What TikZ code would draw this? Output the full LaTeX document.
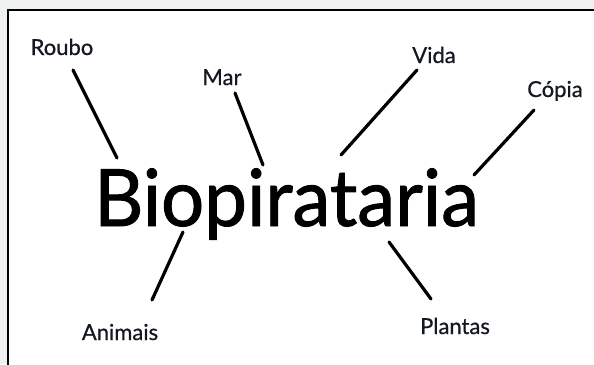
\documentclass[tikz,border=0pt]{standalone}
\usepackage{fontspec}
\setmainfont{Lato}
\newfontfamily\bigfont[FakeBold=1.2]{Lato}
\newfontfamily\lblfont[FakeBold=0.6]{Lato}
\definecolor{pagegray}{HTML}{EFF1F1}
\definecolor{inkc}{HTML}{141820}
\tikzset{
  lbl/.style={inner sep=0pt, anchor=base, text=inkc, font=\lblfont\fontsize{22}{24}\selectfont},
  conn/.style={line width=3.2pt, line cap=round, draw=black},
}
\begin{document}
\begin{tikzpicture}[x=1pt,y=-1pt]
\useasboundingbox (0,0) rectangle (594,364);
\fill[pagegray] (0,0) rectangle (594,364);
\draw[fill=white, line width=1.4pt] (8,10) rectangle (602,372);
% center word
\node[inner sep=0pt, anchor=base west, text=black] (bio) at (94,226)
  {\scalebox{0.965}[1]{\bigfont\fontsize{79}{81}\selectfont Biopirataria}};
% labels
\node[lbl] (roubo) at (62,55) {Roubo};
\node[lbl] (mar) at (222,85) {Mar};
\node[lbl] (vida) at (434,63) {Vida};
\node[lbl] (copia) at (555,97) {Cópia};
\node[lbl] (animais) at (120,340) {Animais};
\node[lbl] (plantas) at (455,334) {Plantas};
% connector ends
\coordinate (r1) at (73,70);   \coordinate (r2) at (117,158);
\coordinate (m1) at (235,93);  \coordinate (m2) at (263,165);
\coordinate (v1) at (417,70);  \coordinate (v2) at (341,155);
\coordinate (c1) at (534,110); \coordinate (c2) at (474,175);
\coordinate (a1) at (183,232); \coordinate (a2) at (152,300);
\coordinate (p1) at (389,242); \coordinate (p2) at (431,299);
\draw[conn] (r1) -- (r2);
\draw[conn] (m1) -- (m2);
\draw[conn] (v1) -- (v2);
\draw[conn] (c1) -- (c2);
\draw[conn] (a1) -- (a2);
\draw[conn] (p1) -- (p2);
\end{tikzpicture}
\end{document}
